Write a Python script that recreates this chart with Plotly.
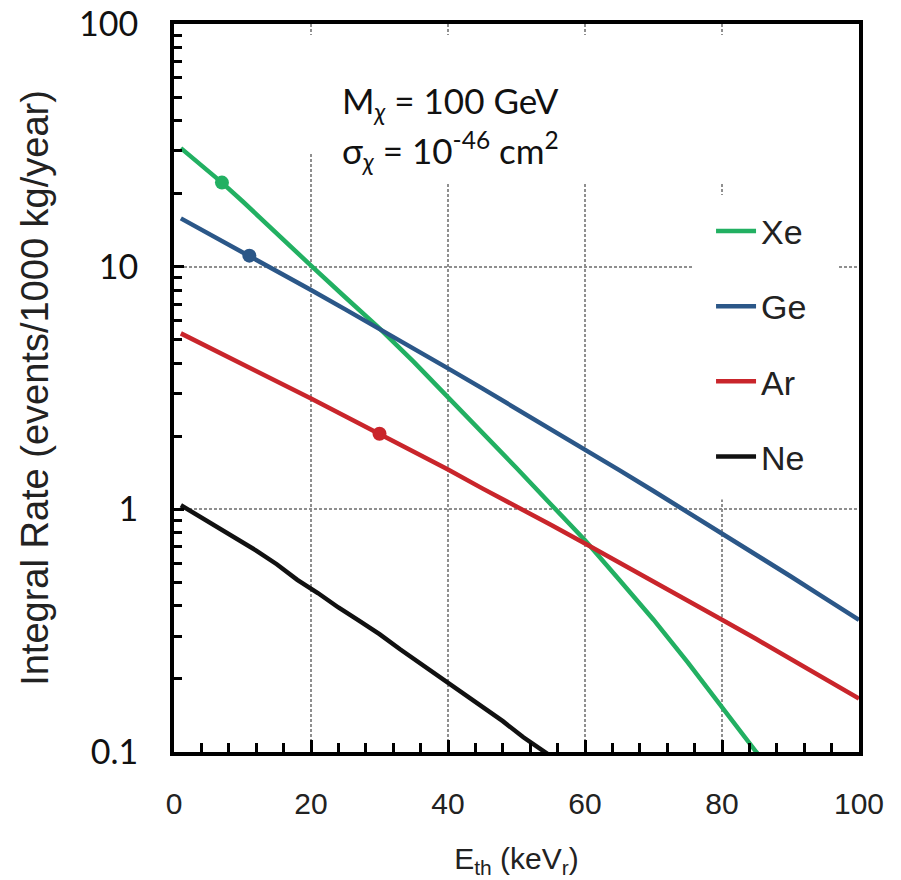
import plotly.graph_objects as go

# Integral WIMP rate above threshold, M_chi = 100 GeV, sigma = 1e-46 cm^2
e_th = [1, 5, 7, 10, 15, 20, 25, 30, 35, 40, 45, 50, 55, 60, 65, 70, 75, 80, 85, 88, 90, 95, 100]

rate_xe = [30.8, 24.8, 22.2, 18.6, 13.8, 10.1, 7.48, 5.57, 4.05, 2.91, 2.08, 1.48, 1.05,
           0.746, 0.513, 0.351, 0.234, 0.154, 0.100, 0.080, None, None, None]
rate_ge = [15.81, 13.73, 12.7, 11.49, 9.60, 8.01, 6.67, 5.55, 4.60, 3.81, 3.15, 2.60, 2.15,
           1.77, 1.45, 1.19, 0.975, 0.797, 0.650, 0.575, 0.530, 0.431, 0.350]
rate_ar = [5.31, 4.67, 4.39, 3.97, 3.37, 2.86, 2.42, 2.05, 1.73, 1.46, 1.22, 1.03, 0.864,
           0.723, 0.605, 0.506, 0.422, 0.351, 0.292, 0.261, 0.242, 0.201, 0.166]

e_ne = [1, 3, 6, 9, 12, 15, 18, 21, 24, 27, 30, 33, 36, 39, 42, 45, 48, 51, 54, 56]
rate_ne = [1.04, 0.962, 0.855, 0.762, 0.676, 0.594, 0.512, 0.452, 0.394, 0.348, 0.306,
           0.265, 0.231, 0.203, 0.177, 0.155, 0.134, 0.115, 0.101, 0.092]

# Highlighted operating thresholds
mark_e = {"Xe": 7, "Ge": 11, "Ar": 30}
mark_rate = {"Xe": 22.2, "Ge": 11.1, "Ar": 2.05}

targets = ["Xe", "Ge", "Ar", "Ne"]
colors = {"Xe": "#22b062", "Ge": "#2b5788", "Ar": "#c9252b", "Ne": "#111111"}
series = {
    "Xe": (e_th, rate_xe),
    "Ge": (e_th, rate_ge),
    "Ar": (e_th, rate_ar),
    "Ne": (e_ne, rate_ne),
}

y_tickvals = [0.1, 1, 10, 100]
y_ticktext = ["0.1", "1", "10", "100"]
x_tickvals = [0, 20, 40, 60, 80, 100]

fig = go.Figure()

for i, name in enumerate(targets):
    xs, ys = series[name]
    fig.add_trace(go.Scatter(
        x=xs, y=ys, mode="lines", name=name,
        line=dict(color=colors[name], width=4.5),
        legendgroup=name, legendrank=i + 1,
    ))

for name in ["Xe", "Ge", "Ar"]:
    fig.add_trace(go.Scatter(
        x=[mark_e[name]], y=[mark_rate[name]], mode="markers",
        marker=dict(color=colors[name], size=14),
        showlegend=False, legendgroup=name,
    ))

# opaque white panels behind the parameter text and the legend
panels = [
    (0.185, 0.856, 0.823, 0.985),
    (0.228, 0.856, 0.783, 0.823),
    (0.757, 0.970, 0.347, 0.765),
]
for x0, x1, y0, y1 in panels:
    fig.add_shape(type="rect", xref="paper", yref="paper",
                  x0=x0, x1=x1, y0=y0, y1=y1,
                  fillcolor="white", line=dict(width=0), layer="above")

label_font = dict(family="Lato, Open Sans, sans-serif", size=35, color="#111")
fig.add_annotation(xref="paper", yref="paper", x=0.243, y=0.892, xanchor="left", yanchor="middle",
                   text="M<sub><i>χ</i></sub> = 100 GeV", showarrow=False, font=label_font)
fig.add_annotation(xref="paper", yref="paper", x=0.243, y=0.826, xanchor="left", yanchor="middle",
                   text="σ<sub><i>χ</i></sub> = 10<sup>-46</sup> cm<sup>2</sup>", showarrow=False, font=label_font)

axis_common = dict(
    showline=True, linewidth=4, linecolor="black", mirror=True,
    ticks="inside", tickwidth=3, tickcolor="black",
    showgrid=True, gridcolor="#8f8f8f", gridwidth=1.5, griddash="3px,2px",
    zeroline=False,
)

fig.update_xaxes(
    **axis_common,
    range=[0, 100], tickvals=x_tickvals, ticklen=12,
    minor=dict(ticks="inside", dtick=4, ticklen=9, tickwidth=3, tickcolor="black", showgrid=False),
    tickfont=dict(family="Liberation Sans, Arial, sans-serif", size=30, color="#222"),
    ticklabelstandoff=22,
    title=dict(text="E<sub>th</sub> (keV<sub>r</sub>)", standoff=30,
               font=dict(family="Liberation Sans, Arial, sans-serif", size=30, color="#222")),
)

fig.update_yaxes(
    **axis_common,
    type="log", range=[-1, 2], tickvals=y_tickvals, ticktext=y_ticktext, ticklen=10,
    minor=dict(ticks="inside", dtick="D1", ticklen=8, tickwidth=3, tickcolor="black", showgrid=False),
    tickfont=dict(family="Lato, Open Sans, sans-serif", size=34, color="#111"),
    ticklabelstandoff=25,
    title=dict(text="Integral Rate (events/1000 kg/year)", standoff=20,
               font=dict(family="Liberation Sans, Arial, sans-serif", size=38, color="#222")),
)

fig.update_layout(
    width=901, height=880,
    margin=dict(l=174, r=42, t=24, b=128, autoexpand=False),
    paper_bgcolor="white", plot_bgcolor="white",
    showlegend=True,
    legend=dict(
        x=0.784, y=0.755, xanchor="left", yanchor="top",
        bgcolor="rgba(0,0,0,0)", borderwidth=0,
        font=dict(family="Liberation Sans, Arial, sans-serif", size=34, color="#222"),
        traceorder="grouped", tracegroupgap=28, itemwidth=40,
    ),
)

fig.write_html("out.html")
